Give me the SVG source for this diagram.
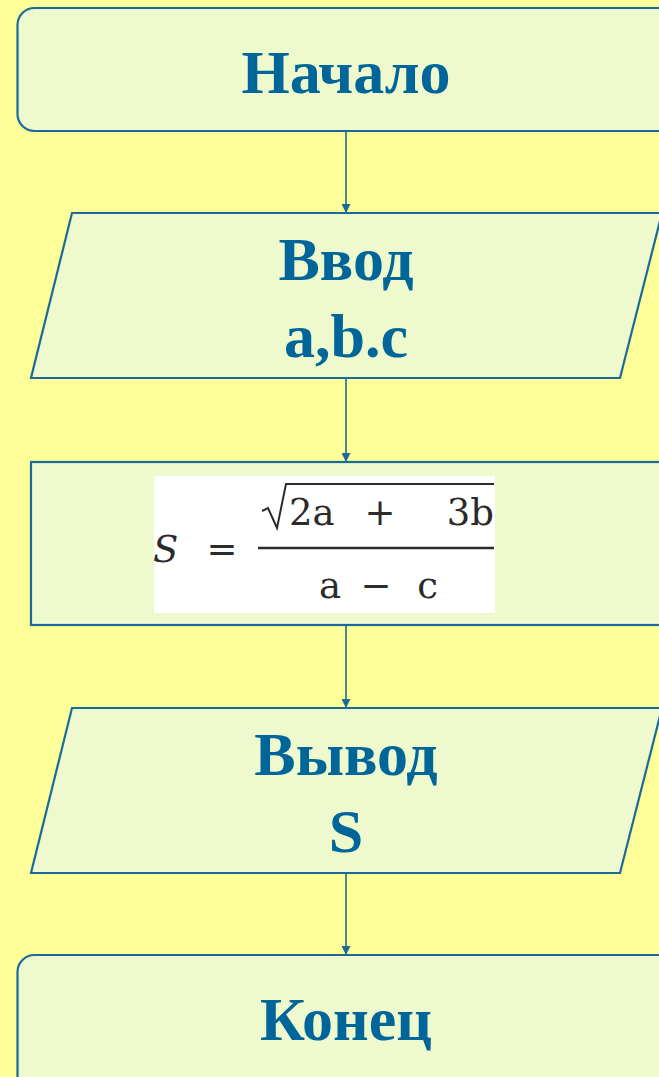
<svg xmlns="http://www.w3.org/2000/svg" width="659" height="1077" viewBox="0 0 659 1077">
<style>
.node{fill:#EEFACE;stroke:#1A6A9A;stroke-width:2.2}
.lbl{font-family:"Liberation Serif","Times New Roman",serif;font-weight:bold;font-size:62px;fill:#006699;text-anchor:middle}
.conn{stroke:#1A6A9A;stroke-width:1.6;fill:none}
.fm{font-family:"DejaVu Serif","Liberation Serif",serif;font-size:37px;fill:#2b2b2b}
</style>
<defs>
<marker id="arr" viewBox="0 0 10 10" refX="10" refY="5" markerWidth="13" markerHeight="9" markerUnits="userSpaceOnUse" orient="auto">
<path d="M0,0 L10,5 L0,10 Z" fill="#1A6A9A"/>
</marker>
</defs>
<rect x="0" y="0" width="659" height="1077" fill="#FFFF99"/>
<g id="connectors">
<line class="conn" x1="346" y1="131" x2="346" y2="213" marker-end="url(#arr)"/>
<line class="conn" x1="346" y1="378" x2="346" y2="462" marker-end="url(#arr)"/>
<line class="conn" x1="346" y1="625" x2="346" y2="708" marker-end="url(#arr)"/>
<line class="conn" x1="346" y1="873" x2="346" y2="955" marker-end="url(#arr)"/>
</g>
<g id="start">
<rect class="node" x="17.5" y="8" width="680" height="123" rx="17" ry="17"/>
<text class="lbl" x="346" y="93">Начало</text>
</g>
<g id="input">
<polygon class="node" points="72,213 662,213 620,378 31,378"/>
<text class="lbl" x="346" y="280">Ввод</text>
<text class="lbl" x="346" y="357">a,b.c</text>
</g>
<g id="process">
<rect class="node" x="31" y="462" width="660" height="163"/>
<rect x="154" y="476" width="341" height="137" fill="#FFFFFF"/>
<text class="fm" x="153" y="562" font-style="italic">S</text>
<text class="fm" x="222" y="562" text-anchor="middle" font-size="44">=</text>
<line x1="258" y1="548" x2="494" y2="548" stroke="#2b2b2b" stroke-width="2.5"/>
<path d="M262,511 L268,508 L277,528 L286,484 L494,484" fill="none" stroke="#2b2b2b" stroke-width="2"/>
<text class="fm" x="289" y="525">2a</text>
<text class="fm" x="380" y="525" text-anchor="middle" font-size="42">+</text>
<text class="fm" x="494" y="525" text-anchor="end">3b</text>
<text class="fm" x="319" y="598">a</text>
<text class="fm" x="376" y="598" text-anchor="middle" font-size="42">−</text>
<text class="fm" x="438" y="598" text-anchor="end">c</text>
</g>
<g id="output">
<polygon class="node" points="72,708 662,708 620,873 31,873"/>
<text class="lbl" x="346" y="775">Вывод</text>
<text class="lbl" x="346" y="852">S</text>
</g>
<g id="end">
<rect class="node" x="17.5" y="955" width="680" height="140" rx="17" ry="17"/>
<text class="lbl" x="346" y="1040">Конец</text>
</g>
</svg>
